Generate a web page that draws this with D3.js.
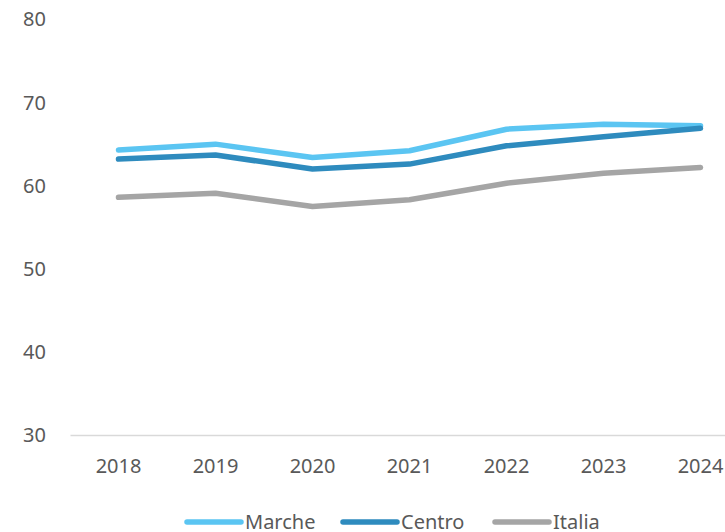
<!DOCTYPE html>
<html>
<head>
<meta charset="utf-8">
<script src="https://cdn.jsdelivr.net/npm/d3@7"></script>
<style>
  body { margin: 0; background: #fff; }
  svg { display: block; font-family: "Noto Sans", sans-serif; }
</style>
</head>
<body>
<div id="chart"></div>
<script>
// data
var years = ["2018", "2019", "2020", "2021", "2022", "2023", "2024"];
var marche = [64.3, 65.0, 63.4, 64.2, 66.8, 67.4, 67.2];
var centro = [63.2, 63.7, 62.0, 62.6, 64.8, 65.9, 66.9];
var italia = [58.6, 59.1, 57.5, 58.3, 60.3, 61.5, 62.2];
var seriesNames = ["Marche", "Centro", "Italia"];
var yTicks = [30, 40, 50, 60, 70, 80];

var colors = ["#5BC5F2", "#2E8BBE", "#A5A5A5"];
var textColor = "#595959";

var W = 725, H = 532;

var svg = d3.select("#chart")
  .append("svg")
  .attr("width", W)
  .attr("height", H);

// scales
var x = d3.scaleBand()
  .domain(years)
  .range([70, 70 + 7 * 97]);

var y = d3.scaleLinear()
  .domain([30, 80])
  .range([435, 19.5]);

// x axis
var xAxis = svg.append("g")
  .attr("transform", "translate(0,435)")
  .call(d3.axisBottom(x).tickSize(0).tickPadding(24));
xAxis.select(".domain").attr("stroke", "#D9D9D9").attr("stroke-width", 1.5);
xAxis.selectAll("text")
  .attr("fill", textColor)
  .style("font-size", "20px")
  .style("font-family", "Noto Sans");

// y axis
var yAxis = svg.append("g")
  .attr("transform", "translate(46,0)")
  .call(d3.axisLeft(y).tickValues(yTicks).tickSize(0).tickPadding(0));
yAxis.select(".domain").remove();
yAxis.selectAll("text")
  .attr("fill", textColor)
  .style("font-size", "20px")
  .style("font-family", "Noto Sans");

// lines
var allSeries = [marche, centro, italia];
var line = d3.line()
  .x(function(d, i) { return x(years[i]) + x.bandwidth() / 2; })
  .y(function(d) { return y(d); });

allSeries.forEach(function(vals, k) {
  svg.append("path")
    .datum(vals)
    .attr("d", line)
    .attr("fill", "none")
    .attr("stroke", colors[k])
    .attr("stroke-width", 5.5)
    .attr("stroke-linecap", "round")
    .attr("stroke-linejoin", "round");
});

// legend
var legendX = [187, 343, 495];
var legend = svg.append("g");
seriesNames.forEach(function(name, k) {
  legend.append("line")
    .attr("x1", legendX[k]).attr("x2", legendX[k] + 54)
    .attr("y1", 522).attr("y2", 522)
    .attr("stroke", colors[k])
    .attr("stroke-width", 5.5)
    .attr("stroke-linecap", "round");
  legend.append("text")
    .attr("x", legendX[k] + 58)
    .attr("y", 529)
    .attr("fill", textColor)
    .style("font-size", "20px")
    .text(name);
});
</script>
</body>
</html>
